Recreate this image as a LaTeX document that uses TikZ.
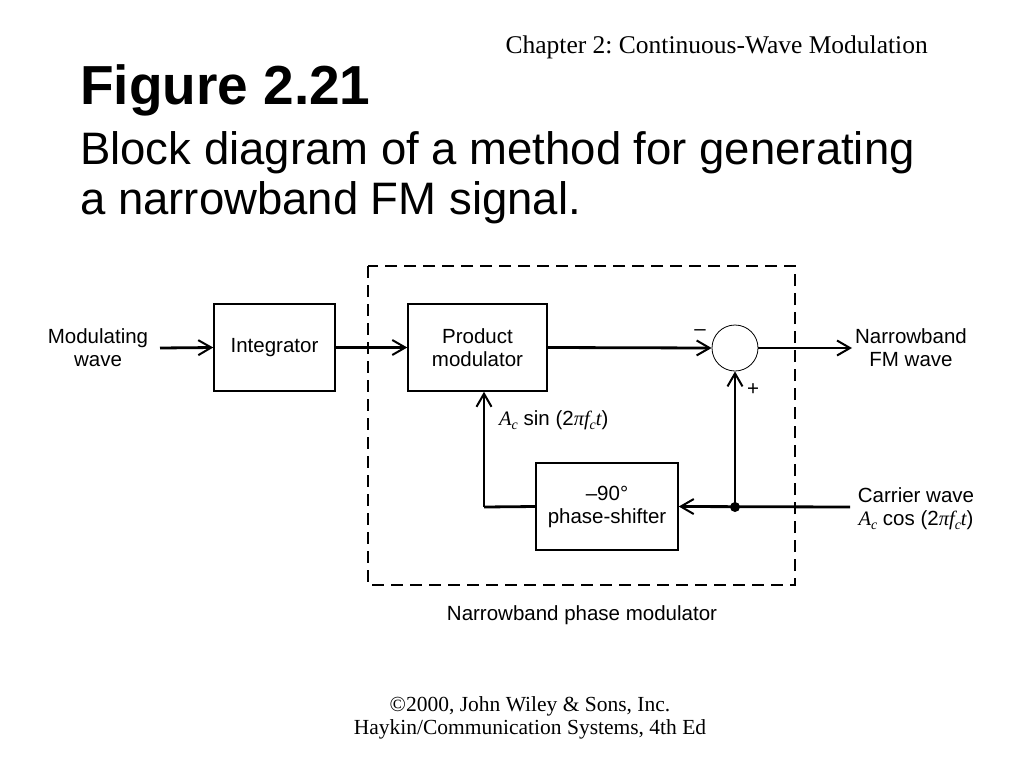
\documentclass[tikz,border=0pt]{standalone}
\usepackage{fontspec}
\setmainfont{Liberation Sans}
\newfontfamily\timesfont{Liberation Serif}
\usetikzlibrary{arrows.meta}
\newcommand{\tvar}[1]{{\timesfont\itshape #1}}
\newcommand{\tsub}[1]{\raisebox{-0.35ex}{\fontsize{14}{14}\selectfont\timesfont\itshape #1}}
\frenchspacing
\begin{document}
\begin{tikzpicture}[x=1pt,y=-1pt,
  lbl/.style={font=\fontsize{20.5}{23}\selectfont, align=center, inner sep=0pt},
  blk/.style={draw, line width=1.5pt, minimum height=87pt, inner sep=0pt, font=\fontsize{20.5}{23}\selectfont, align=center},
  sig/.style={line width=2.8pt, -{Straight Barb[length=13pt,width=15pt,line width=2pt]}},
  wire/.style={line width=2.8pt}]
\useasboundingbox (0,0) rectangle (1024,768);
% header
\node[anchor=base east, inner sep=0pt, font=\timesfont\fontsize{25.5}{28}\selectfont] (hdr) at (928,54) {Chapter 2: Continuous-Wave Modulation};
\node[anchor=base west, inner sep=0pt, font=\bfseries\fontsize{55}{60}\selectfont] (ttl) at (80,104) {Figure 2.21};
\node[anchor=base west, inner sep=0pt, font=\fontsize{45.5}{50}\selectfont] (sub1) at (80,164) {Block diagram of a method for generating};
\node[anchor=base west, inner sep=0pt, font=\fontsize{45.5}{50}\selectfont] (sub2) at (80,214) {a narrowband FM signal.};
% dashed region
\draw[line width=2pt, dash pattern=on 12pt off 7pt] (368,266) rectangle (795,585);
\node[lbl] (npm) at (582,615) {Narrowband phase modulator};
% blocks
\node[blk, minimum width=121pt] (int) at (274.5,347.5) {Integrator};
\node[blk, minimum width=139pt] (pm) at (477.5,347.5) {Product\\modulator};
\node[blk, minimum width=142pt] (ps) at (607,506.5) {--90\textdegree\\phase-shifter};
\node[draw, circle, line width=0.8pt, minimum size=46pt, inner sep=0pt] (sum) at (735,348) {};
% labels
\node[lbl] (mw) at (98,348) {Modulating\\wave};
\node[lbl] (nfm) at (911,348) {Narrowband\\FM wave};
\node[lbl] (cw) at (916,509) {Carrier wave\\\tvar{A}\tsub{c} cos (2\tvar{πf}\tsub{c}\tvar{t})};
\node[lbl, anchor=west] (sinl) at (499,420) {\tvar{A}\tsub{c} sin (2\tvar{πf}\tsub{c}\tvar{t})};
\node[lbl] (minus) at (700,333) {--};
\node[lbl] (plus) at (753,390) {+};
% coordinates
\coordinate (min) at (160,348);
\coordinate (fout) at (852,348);
\coordinate (cin) at (850,507);
\coordinate (dot) at (735,507);
\coordinate (fb) at (484,507);
% connectors
\draw[sig] (min) -- (int.west);
\draw[sig] (int.east) -- (pm.west);
\draw[sig] (pm.east) -- (sum.west);
\draw[sig] (sum.east) -- (fout);
\draw[sig] (cin) -- (ps.east);
\draw[sig] (dot) -- (sum.south);
\draw[wire] (ps.west) -- (fb);
\draw[sig] (fb) -- (fb |- pm.south);
\fill (dot) circle (5pt);
% footer
\node[align=center, inner sep=0pt, font=\timesfont\fontsize{21.5}{23.5}\selectfont] (ftr) at (530,718) {\textcopyright2000, John Wiley \& Sons, Inc.\\Haykin/Communication Systems, 4th Ed};
\end{tikzpicture}
\end{document}
